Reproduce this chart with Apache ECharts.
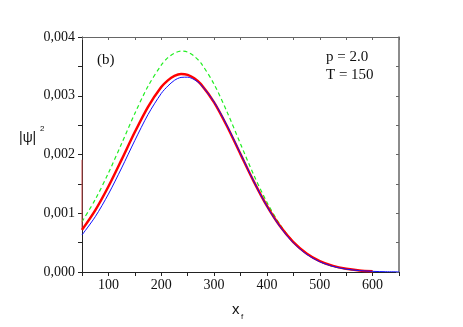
<!DOCTYPE html>
<html>
<head>
<meta charset="utf-8">
<script src="https://cdn.jsdelivr.net/npm/echarts@6/dist/echarts.min.js"></script>
<style>
  html, body { margin: 0; padding: 0; background: #fff; }
  #main { width: 463px; height: 327px; }
</style>
</head>
<body>
<div id="main"></div>
<script>
// x positions (x_f) and |psi|^2 values
var xRed   = [50, 75, 100, 125, 150, 175, 200, 212.5, 225, 237.5, 250, 262.5, 275, 300, 325, 350, 375, 400, 425, 450, 475, 500, 525, 550, 575, 600];
var yRed   = [0.000717, 0.001049, 0.001455, 0.001912, 0.002382, 0.002812, 0.003147, 0.003262, 0.003338, 0.00337, 0.003356, 0.003297,
              0.003198, 0.002888, 0.002473, 0.002006, 0.001543, 0.001125, 0.000777, 0.000509, 0.000316, 0.000186, 0.000104, 0.000055,
              0.000027, 0.000013];
var xGreen = [50, 75, 100, 125, 150, 175, 200, 212.5, 225, 237.5, 250, 262.5, 275, 300, 325, 350, 375, 400, 425, 450, 475, 500, 525, 550, 575, 600];
var yGreen = [0.000856, 0.001232, 0.001684, 0.002187, 0.002698, 0.003162, 0.003521, 0.003648, 0.003725, 0.00376, 0.003743, 0.003672,
              0.003558, 0.003197, 0.002716, 0.00218, 0.001654, 0.001187, 0.000805, 0.000516, 0.000312, 0.000179, 0.000097, 0.00005,
              0.000024, 0.00001];
var xBlue  = [50, 75, 100, 125, 150, 175, 200, 212.5, 225, 237.5, 250, 262.5, 275, 300, 325, 350, 375, 400, 425, 450, 475, 500, 525, 550, 575, 600, 625, 650];
var yBlue  = [0.000631, 0.00094, 0.001326, 0.001771, 0.002239, 0.002681, 0.003039, 0.003165, 0.003263, 0.003312, 0.003316, 0.003274,
              0.003188, 0.002895, 0.002485, 0.002016, 0.001545, 0.001119, 0.000767, 0.000496, 0.000303, 0.000175, 0.000096, 0.000049,
              0.000024, 0.000011, 0.000005, 0.000002];
// short red stroke on the left edge
var xEdge  = [50, 50];
var yEdge  = [0.00191, 0.00072];

var xTicks = [100, 200, 300, 400, 500, 600];
var yTicks = ['0,000', '0,001', '0,002', '0,003', '0,004'];

function pairs(xs, ys) {
    var out = [];
    for (var i = 0; i < xs.length; i++) out.push([xs[i], ys[i]]);
    return out;
}

var serif = '"Liberation Serif", "Times New Roman", serif';
var sans = '"Liberation Sans", Arial, sans-serif';

var option = {
    animation: false,
    backgroundColor: '#fff',
    grid: {left: 82, right: 64, top: 37, bottom: 55},
    xAxis: [
        {
            type: 'value', min: 50, max: 650, interval: 50, position: 'bottom',
            axisLine: {onZero: false, lineStyle: {color: '#222', width: 1}},
            axisTick: {inside: false, length: 4, lineStyle: {color: '#222'}},
            axisLabel: {
                color: '#111', fontFamily: serif, fontSize: 14, margin: 6,
                formatter: function (v) { return xTicks.indexOf(v) >= 0 ? String(v) : ''; }
            },
            splitLine: {show: false}
        },
        {
            type: 'value', min: 50, max: 650, interval: 50, position: 'top',
            axisLine: {onZero: false, lineStyle: {color: '#666', width: 1}},
            axisTick: {inside: true, length: 3, lineStyle: {color: '#666'}},
            axisLabel: {show: false},
            splitLine: {show: false}
        }
    ],
    yAxis: [
        {
            type: 'value', min: 0, max: 0.004, interval: 0.0005, position: 'left',
            axisLine: {onZero: false, lineStyle: {color: '#222', width: 1}},
            axisTick: {inside: false, length: 4, lineStyle: {color: '#222'}},
            axisLabel: {
                color: '#111', fontFamily: serif, fontSize: 14, margin: 7,
                formatter: function (v) {
                    var k = Math.round(v * 10000);
                    return k % 10 === 0 ? yTicks[k / 10] : '';
                }
            },
            splitLine: {show: false}
        },
        {
            type: 'value', min: 0, max: 0.004, interval: 0.0005, position: 'right',
            axisLine: {onZero: false, lineStyle: {color: '#666', width: 1.5}},
            axisTick: {inside: true, length: 3, lineStyle: {color: '#666'}},
            axisLabel: {show: false},
            splitLine: {show: false}
        }
    ],
    graphic: [
        {type: 'text', left: 97, top: 53, style: {text: '(b)', font: '15px ' + serif, fill: '#111'}},
        {type: 'text', left: 326, top: 50, style: {text: 'p = 2.0', font: '15px ' + serif, fill: '#111'}},
        {type: 'text', left: 326, top: 68, style: {text: 'T = 150', font: '15px ' + serif, fill: '#111'}},
        {type: 'text', left: 19, top: 131, style: {text: '|ψ|', font: '14px ' + sans, fill: '#111'}},
        {type: 'text', left: 40, top: 125, style: {text: '2', font: '8px ' + sans, fill: '#111'}},
        {type: 'text', left: 232, top: 302, style: {text: 'x', font: '15px ' + sans, fill: '#111'}},
        {type: 'text', left: 241, top: 313, style: {text: 'f', font: '8px ' + sans, fill: '#111'}}
    ],
    series: [
        {
            type: 'line', data: pairs(xGreen, yGreen), smooth: 0.3, showSymbol: false,
            lineStyle: {color: '#22ee22', width: 1.2, type: [4, 3]}, z: 2
        },
        {
            type: 'line', data: pairs(xEdge, yEdge), showSymbol: false,
            lineStyle: {color: '#c84848', width: 1}, z: 2
        },
        {
            type: 'line', data: pairs(xRed, yRed), smooth: 0.3, showSymbol: false,
            lineStyle: {color: '#ff0000', width: 2.5}, z: 3
        },
        {
            type: 'line', data: pairs(xBlue, yBlue), smooth: 0.3, showSymbol: false,
            lineStyle: {color: '#1010ff', width: 1}, z: 4
        }
    ]
};

var myChart = echarts.init(document.getElementById('main'));
myChart.setOption(option);
</script>
</body>
</html>
